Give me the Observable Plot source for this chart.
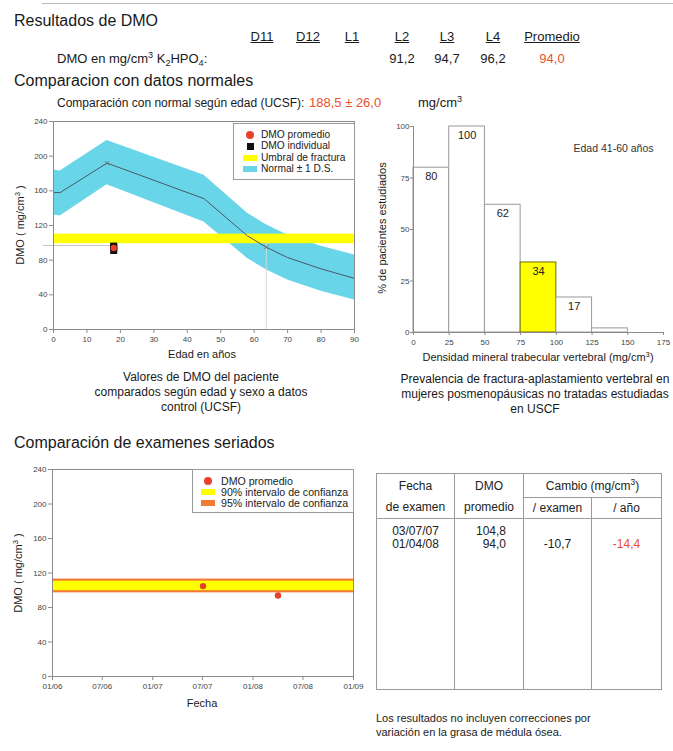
<!DOCTYPE html>
<html><head><meta charset="utf-8">
<script src="https://cdn.jsdelivr.net/npm/d3@7"></script>
<script src="https://cdn.jsdelivr.net/npm/@observablehq/plot@0.6"></script>
<style>
html,body{margin:0;padding:0;background:#fff;}
#page{position:relative;width:673px;height:751px;overflow:hidden;font-family:"Liberation Sans",Arial,sans-serif;color:#1a1a1a;}
.t{position:absolute;white-space:nowrap;}
.plot{position:absolute;}
.legend{position:absolute;border:1px solid #9a9a9a;background:#fff;box-sizing:border-box;}
.legend .sym{position:absolute;}
.legend .lbl{position:absolute;line-height:12px;white-space:nowrap;color:#222;}
#tbl{position:absolute;left:376px;top:473px;width:286px;height:217px;border-collapse:collapse;table-layout:fixed;font-size:12px;}
#tbl td{border:1px solid #9a9a9a;text-align:center;padding:0;color:#222;}
sup{font-size:0.7em;vertical-align:0.55em;line-height:0;}
sub{font-size:0.7em;vertical-align:-0.3em;line-height:0;}
.red{color:#e8502c;}
</style>
</head><body><div id="page"></div>
<script>
// ---------- DATA ----------
const regionNames = ["D11", "D12", "L1", "L2", "L3", "L4", "Promedio"];
const regionDmo = [null, null, null, 91.2, 94.7, 96.2, 94.0];
const normalForAge = 188.5, normalForAgeSD = 26.0;

// age-matched normal curve (UCSF)
const ages = [0, 2, 16, 45, 58, 63.6, 70, 80, 90];
const normalMean = [158, 158, 192, 151, 108, 95, 83, 70, 59];
const normalUpper = [184, 183, 218, 178, 134, 121, 109, 96, 86];
const normalLower = [132, 131, 167, 124, 82, 69, 57, 44, 34];
const curveMarkAges = [16, 63.6];
const curveMarkValues = [192, 95];
const fractureThreshold = [99, 110];
const patientAge = 18;
const patientIndividual = [91.2, 94.7, 96.2];
const patientMean = 94.0;
const ageTicks = [0, 10, 20, 30, 40, 50, 60, 70, 80, 90];
const dmoTicks = [0, 40, 80, 120, 160, 200, 240];

// histogram (UCSF prevalence, age 41-60)
const binStart = [0, 25, 50, 75, 100, 125];
const binEnd = [25, 50, 75, 100, 125, 150];
const prevalence = [80, 100, 62, 34, 17, 2];
const prevalenceLabels = ["80", "100", "62", "34", "17", ""];
const patientBin = 3;
const densityTicks = [0, 25, 50, 75, 100, 125, 150, 175];
const pctTicks = [0, 25, 50, 75, 100];

// serial exams
const examDates = ["2007-07-03", "2008-04-01"];
const examDateLabels = ["03/07/07", "01/04/08"];
const examDmo = [104.8, 94.0];
const changePerExam = [null, -10.7];
const changePerYear = [null, -14.4];
const ci90 = [99.5, 110.5];
const ci95 = [97, 113];
const dateTicks = ["2006-01-01", "2006-07-01", "2007-01-01", "2007-07-01", "2008-01-01", "2008-07-01", "2009-01-01"];

// ---------- STYLE ----------
const FONT = '"Liberation Sans", Arial, sans-serif';
const CYAN = "#68d5e8", YELLOW = "#ffff00", RED = "#e8402a", ORANGE = "#f27b35", FRAME = "#8a8a8a";
const TEXTRED = "#e8502c";
const fmt = v => v.toFixed(1).replace(".", ",");
const parse = d3.utcParse("%Y-%m-%d");
const page = document.getElementById("page");

function txt(html, left, cy, size, extra = "") {
  const lh = Math.round(size * 1.25);
  const d = document.createElement("div");
  d.className = "t";
  d.style.cssText = `left:${left}px;top:${cy - lh / 2}px;font-size:${size}px;line-height:${lh}px;${extra}`;
  d.innerHTML = html;
  page.appendChild(d);
  return d;
}
function ctxt(html, cx, cy, size, extra = "") {
  return txt(html, cx, cy, size, `transform:translateX(-50%);text-align:center;${extra}`);
}

// ---------- HEADER ----------
const rule = document.createElement("div");
rule.style.cssText = "position:absolute;left:42px;top:3px;width:631px;height:1px;background:#b8b8b8;";
page.appendChild(rule);

txt("Resultados de DMO", 14, 21, 16);
const colCenters = [262, 308, 352, 402, 447, 493, 552];
regionNames.forEach((n, i) => {
  ctxt(`<u>${n}</u>`, colCenters[i], 37, 13);
  if (regionDmo[i] != null) ctxt(fmt(regionDmo[i]), colCenters[i], 59, 13, i === regionNames.length - 1 ? `color:${TEXTRED};` : "");
});
txt("DMO en mg/cm<sup>3</sup> K<sub>2</sub>HPO<sub>4</sub>:", 57, 59, 13);
txt("Comparacion con datos normales", 14, 81, 16);
txt("Comparación con normal según edad (UCSF):", 57, 103, 12);
txt(`${fmt(normalForAge)} ± ${fmt(normalForAgeSD)}`, 309, 103, 13, `color:${TEXTRED};`);
txt("mg/cm<sup>3</sup>", 418, 103, 13);

// ---------- PLOT 1: DMO vs age ----------
const normalData = ages.map((a, i) => ({age: a, mean: normalMean[i], lo: normalLower[i], hi: normalUpper[i]}));
const ageDomain = [ageTicks[0], ageTicks[ageTicks.length - 1]];
const thresholdRect = [{x1: ageDomain[0], x2: ageDomain[1], y1: fractureThreshold[0], y2: fractureThreshold[1]}];
const curveMarks = curveMarkAges.map((a, i) => ({age: a, v: curveMarkValues[i]}));
const indiv = patientIndividual.map(v => ({age: patientAge, v}));

const p1 = Plot.plot({
  width: 365, height: 250,
  marginLeft: 53, marginRight: 11, marginTop: 21, marginBottom: 21,
  style: {fontFamily: FONT, fontSize: "8px", color: "#444", background: "transparent", overflow: "visible"},
  x: {domain: ageDomain},
  y: {domain: [dmoTicks[0], dmoTicks[dmoTicks.length - 1]]},
  marks: [
    Plot.areaY(normalData, {x: "age", y1: "lo", y2: "hi", fill: CYAN, curve: "linear"}),
    Plot.ruleX([curveMarkAges[1]], {y1: 0, y2: fractureThreshold[0], stroke: "#d6d6d6", strokeWidth: 1}),
    Plot.rect(thresholdRect, {x1: "x1", x2: "x2", y1: "y1", y2: "y2", fill: YELLOW}),
    Plot.ruleY([fractureThreshold[0] - 2], {x1: ageDomain[0] - 3, x2: patientAge, stroke: "#c4c4c4", strokeWidth: 1, clip: false}),
    Plot.line(normalData, {x: "age", y: "mean", stroke: "#4b5968", strokeWidth: 1}),
    Plot.dot(curveMarks, {x: "age", y: "v", symbol: "times", r: 2, stroke: "#6a7580", strokeWidth: 1}),
    Plot.dot(indiv, {x: "age", y: "v", symbol: "square", r: 4, fill: "#111"}),
    Plot.dot([{age: patientAge, v: patientMean}], {x: "age", y: "v", r: 3.2, fill: RED}),
    Plot.frame({stroke: FRAME}),
    Plot.axisY({ticks: dmoTicks, tickSize: 4, tickPadding: 2, label: null, stroke: FRAME}),
    Plot.axisX({ticks: ageTicks, tickSize: 4, tickPadding: 3, label: null, stroke: FRAME})
  ]
});
p1.classList.add("plot");
p1.style.left = "0px"; p1.style.top = "100px";
page.appendChild(p1);
ctxt("Edad en años", 202, 354, 11);
txt("DMO ( mg/cm<sup>3</sup> )", 20, 225, 11, "transform:translate(-50%,0) rotate(-90deg);transform-origin:50% 50%;");
ctxt("Valores de DMO del paciente<br>comparados según edad y sexo a datos<br>control (UCSF)", 201, 393, 12, "line-height:15px;top:370px;");

// legends
function legend(left, top, w, h, size, items) {
  const box = document.createElement("div");
  box.className = "legend";
  box.style.cssText = `left:${left}px;top:${top}px;width:${w}px;height:${h}px;font-size:${size}px;`;
  items.forEach(it => {
    const s = document.createElement("div");
    s.className = "sym";
    if (it.type === "dot") s.style.cssText = `left:${it.sx - 4}px;top:${it.y - 4}px;width:8px;height:8px;border-radius:50%;background:${it.color};`;
    else if (it.type === "square") s.style.cssText = `left:${it.sx - 3.5}px;top:${it.y - 3.5}px;width:7px;height:7px;background:${it.color};`;
    else s.style.cssText = `left:${it.sx - 7}px;top:${it.y - 3}px;width:14px;height:6px;background:${it.color};`;
    box.appendChild(s);
    const l = document.createElement("div");
    l.className = "lbl";
    l.style.cssText = `left:${it.tx}px;top:${it.y - 6.5}px;`;
    l.textContent = it.label;
    box.appendChild(l);
  });
  page.appendChild(box);
}
legend(233, 123, 122, 57, 10.2, [
  {type: "dot", color: RED, label: "DMO promedio", y: 11, sx: 16, tx: 27},
  {type: "square", color: "#111", label: "DMO individual", y: 22.5, sx: 16, tx: 27},
  {type: "bar", color: YELLOW, label: "Umbral de fractura", y: 34, sx: 16, tx: 27},
  {type: "bar", color: CYAN, label: "Normal ± 1 D.S.", y: 45, sx: 16, tx: 27}
]);

// ---------- PLOT 2: histogram ----------
const bins = binStart.map((s, i) => ({x1: s, x2: binEnd[i], y: prevalence[i], label: prevalenceLabels[i], hl: i === patientBin}));
const p2 = Plot.plot({
  width: 313, height: 260,
  marginLeft: 53, marginRight: 10, marginTop: 16, marginBottom: 38,
  style: {fontFamily: FONT, fontSize: "8px", color: "#444", background: "transparent", overflow: "visible"},
  x: {domain: [densityTicks[0], densityTicks[densityTicks.length - 1]]},
  y: {domain: [pctTicks[0], pctTicks[pctTicks.length - 1]]},
  marks: [
    Plot.rectY(bins, {x1: "x1", x2: "x2", y: "y", fill: d => d.hl ? YELLOW : "#fff", stroke: d => d.hl ? "#6b6b00" : "#9a9a9a", strokeWidth: 1, inset: 0}),
    Plot.text(bins, {x: d => (d.x1 + d.x2) / 2, y: "y", text: "label", dy: 9, fontSize: 11, fill: "#222"}),
    Plot.ruleY([0], {stroke: FRAME}),
    Plot.ruleX([0], {stroke: FRAME}),
    Plot.text(["Edad 41-60 años"], {frameAnchor: "top-right", dx: -10, dy: 18, textAnchor: "end", fontSize: 10.5, fill: "#333"}),
    Plot.axisY({ticks: pctTicks, tickSize: 3, tickPadding: 1, label: null, stroke: FRAME}),
    Plot.axisX({ticks: densityTicks, tickSize: 3, tickPadding: 4, label: null, stroke: FRAME})
  ]
});
p2.classList.add("plot");
p2.style.left = "360px"; p2.style.top = "110px";
page.appendChild(p2);
ctxt("Densidad mineral trabecular vertebral (mg/cm<sup>3</sup>)", 538, 357, 11);
txt("% de pacientes estudiados", 382, 228, 11, "transform:translate(-50%,0) rotate(-90deg);transform-origin:50% 50%;");
ctxt("Prevalencia de fractura-aplastamiento vertebral en<br>mujeres posmenopáusicas no tratadas estudiadas<br>en USCF", 535, 395, 12, "line-height:15px;top:372px;");

// ---------- SECTION 2 ----------
txt("Comparación de examenes seriados", 14, 443, 16);

const tickDates = dateTicks.map(parse);
const exams = examDates.map((d, i) => ({date: parse(d), v: examDmo[i]}));
const dDomain = [tickDates[0], tickDates[tickDates.length - 1]];
const p3 = Plot.plot({
  width: 365, height: 255,
  marginLeft: 52, marginRight: 12, marginTop: 14, marginBottom: 34,
  style: {fontFamily: FONT, fontSize: "8px", color: "#444", background: "transparent", overflow: "visible"},
  x: {type: "utc", domain: dDomain},
  y: {domain: [dmoTicks[0], dmoTicks[dmoTicks.length - 1]]},
  marks: [
    Plot.rect([{x1: dDomain[0], x2: dDomain[1], y1: ci95[0], y2: ci95[1]}], {x1: "x1", x2: "x2", y1: "y1", y2: "y2", fill: ORANGE}),
    Plot.rect([{x1: dDomain[0], x2: dDomain[1], y1: ci90[0], y2: ci90[1]}], {x1: "x1", x2: "x2", y1: "y1", y2: "y2", fill: YELLOW}),
    Plot.dot(exams, {x: "date", y: "v", r: 3.2, fill: RED}),
    Plot.frame({stroke: FRAME}),
    Plot.axisY({ticks: dmoTicks, tickSize: 4, tickPadding: 2, label: null, stroke: FRAME}),
    Plot.axisX({ticks: tickDates, tickFormat: d3.utcFormat("%m/%y"), tickSize: 4, tickPadding: 3, label: null, stroke: FRAME})
  ]
});
p3.classList.add("plot");
p3.style.left = "0px"; p3.style.top = "455px";
page.appendChild(p3);
ctxt("Fecha", 202, 703, 11);
txt("DMO ( mg/cm<sup>3</sup> )", 18, 573, 11, "transform:translate(-50%,0) rotate(-90deg);transform-origin:50% 50%;");
legend(192, 469, 162, 44, 10.6, [
  {type: "dot", color: RED, label: "DMO promedio", y: 11, sx: 15, tx: 28},
  {type: "bar", color: YELLOW, label: "90% intervalo de confianza", y: 22, sx: 15, tx: 28},
  {type: "bar", color: ORANGE, label: "95% intervalo de confianza", y: 33, sx: 15, tx: 28}
]);

// ---------- TABLE ----------
const lines = arr => arr.map(v => v == null ? "&nbsp;" : v).join("<br>");
const tbl = document.createElement("table");
tbl.id = "tbl";
tbl.innerHTML = `
<colgroup><col style="width:78px"><col style="width:69px"><col style="width:68px"><col style="width:70px"></colgroup>
<tr style="height:24px"><td rowspan="2" style="vertical-align:top;line-height:21px;padding-top:2px">Fecha<br>de examen</td>
<td rowspan="2" style="vertical-align:top;line-height:21px;padding-top:2px">DMO<br>promedio</td>
<td colspan="2">Cambio (mg/cm<sup>3</sup>)</td></tr>
<tr style="height:21px"><td>/ examen</td><td>/ año</td></tr>
<tr><td style="vertical-align:top;line-height:13px;padding-top:6px">${lines(examDateLabels)}</td>
<td style="vertical-align:top;line-height:13px;padding-top:6px;text-align:right;padding-right:17px">${lines(examDmo.map(fmt))}</td>
<td style="vertical-align:top;line-height:13px;padding-top:6px">${lines(changePerExam.map(v => v == null ? null : fmt(v)))}</td>
<td style="vertical-align:top;line-height:13px;padding-top:6px"><span class="red">${lines(changePerYear.map(v => v == null ? null : fmt(v)))}</span></td></tr>`;
page.appendChild(tbl);

txt("Los resultados no incluyen correcciones por<br>variación en la grasa de médula ósea.", 376, 725, 11, "line-height:14px;top:711px;");
</script>
</body></html>
